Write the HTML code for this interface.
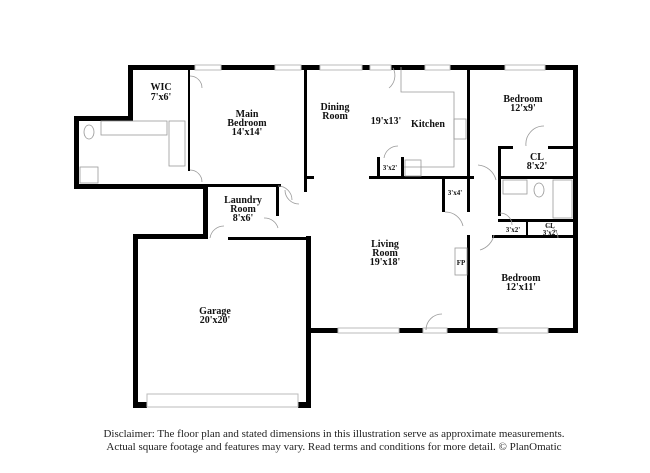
<!DOCTYPE html>
<html><head><meta charset="utf-8"><style>
html,body{margin:0;padding:0;background:#fff;}
svg{display:block;}
text{font-family:"Liberation Serif",serif;fill:#111;}
.l{font-size:10px;font-weight:bold;text-anchor:middle;}
.s{font-size:7px;font-weight:bold;text-anchor:middle;}
.d{font-size:11px;text-anchor:middle;fill:#222;}
</style></head><body>
<svg width="650" height="473" viewBox="0 0 650 473" xmlns="http://www.w3.org/2000/svg">
<rect width="650" height="473" fill="#fff"/>
<g fill="#000">
<rect x="128" y="65" width="450" height="5"/>
<rect x="573" y="65" width="5" height="268"/>
<rect x="128" y="65" width="5" height="56"/>
<rect x="74" y="116" width="59" height="5"/>
<rect x="74" y="116" width="5" height="73"/>
<rect x="74" y="184" width="134" height="5"/>
<rect x="203" y="184" width="5" height="55"/>
<rect x="133" y="234" width="75" height="5"/>
<rect x="133" y="234" width="5" height="174"/>
<rect x="133" y="402" width="14" height="6"/>
<rect x="298" y="402" width="13" height="6"/>
<rect x="306" y="236" width="5" height="172"/>
<rect x="306" y="328" width="272" height="5"/>
<rect x="467" y="235" width="3" height="96"/>
<rect x="304" y="67" width="3" height="125"/>
<rect x="304" y="176" width="10" height="3"/>
<rect x="133" y="184" width="148" height="3"/>
<rect x="276" y="184" width="3" height="32"/>
<rect x="228" y="237" width="80" height="3"/>
<rect x="369" y="176" width="105" height="3"/>
<rect x="377" y="157" width="3" height="20"/>
<rect x="401" y="157" width="3" height="20"/>
<rect x="467" y="67" width="3" height="145"/>
<rect x="442" y="177" width="3" height="35"/>
<rect x="498" y="146" width="3" height="30"/>
<rect x="498" y="146" width="15" height="3"/>
<rect x="548" y="146" width="27" height="3"/>
<rect x="498" y="176" width="77" height="3"/>
<rect x="498" y="176" width="3" height="40"/>
<rect x="498" y="219" width="77" height="3"/>
<rect x="526" y="219" width="2" height="18"/>
<rect x="492" y="235" width="83" height="3"/>
<rect x="188" y="67" width="2" height="104"/>
</g>
<g fill="#fff" stroke="#bbb" stroke-width="1">
<rect x="195" y="65" width="26" height="5"/>
<rect x="275" y="65" width="26" height="5"/>
<rect x="320" y="65" width="42" height="5"/>
<rect x="370" y="65" width="21" height="5"/>
<rect x="425" y="65" width="25" height="5"/>
<rect x="505" y="65" width="40" height="5"/>
<rect x="338" y="328" width="61" height="5"/>
<rect x="423" y="328" width="24" height="5"/>
<rect x="498" y="328" width="50" height="5"/>
<rect x="147" y="394" width="151" height="13"/>
</g>
<g fill="none" stroke="#999" stroke-width="0.8">
<rect x="101" y="121" width="66" height="14"/>
<rect x="169" y="121" width="16" height="45"/>
<rect x="80" y="167" width="18" height="16"/>
<ellipse cx="89" cy="132" rx="5" ry="7"/>
<path d="M401 67 v25 h53 v75 h-50"/>
<rect x="454" y="119" width="12" height="20"/>
<rect x="405" y="160" width="16" height="16"/>
<rect x="455" y="248" width="12" height="27"/>
<rect x="503" y="180" width="24" height="14"/>
<rect x="553" y="180" width="19" height="38"/>
<ellipse cx="539" cy="190" rx="5" ry="7"/>
<path d="M190 76 a12 12 0 0 1 12 12"/><path d="M190 170 a12 12 0 0 1 12 12"/>
<path d="M278 186 a14 14 0 0 1 14 14"/><path d="M278 228 a14 14 0 0 0 -14 -10"/>
<path d="M210 238 a14 14 0 0 1 14 -12"/><path d="M393 68 a16 16 0 0 1 -4 20"/>
<path d="M384 158 a14 14 0 0 1 14 -12"/><path d="M445 212 a18 18 0 0 1 18 14"/>
<path d="M478 165 a20 20 0 0 1 18 15"/><path d="M480 250 a20 20 0 0 0 14 -15"/>
<path d="M500 213 a12 12 0 0 1 12 12"/><path d="M546 226 a12 12 0 0 1 12 12"/>
<path d="M526 146 a18 18 0 0 1 18 -20"/><path d="M426 330 a16 16 0 0 1 16 -16"/>
<path d="M285 190 a14 14 0 0 0 14 14"/>
</g>
<text class="l" x="161" y="90">WIC</text><text class="l" x="161" y="100">7'x6'</text>
<text class="l" x="247" y="117">Main</text><text class="l" x="247" y="126">Bedroom</text><text class="l" x="247" y="135">14'x14'</text>
<text class="l" x="335" y="110">Dining</text><text class="l" x="335" y="119">Room</text>
<text class="l" x="386" y="124">19'x13'</text><text class="l" x="428" y="127">Kitchen</text>
<text class="l" x="523" y="102">Bedroom</text><text class="l" x="523" y="111">12'x9'</text>
<text class="l" x="537" y="160">CL</text><text class="l" x="537" y="169">8'x2'</text>
<text class="s" x="390" y="170">3'x2'</text><text class="s" x="455" y="195">3'x4'</text>
<text class="s" x="513" y="232">3'x2'</text><text class="s" x="550" y="228">CL</text><text class="s" x="550" y="235">3'x2'</text>
<text class="l" x="243" y="203">Laundry</text><text class="l" x="243" y="212">Room</text><text class="l" x="243" y="221">8'x6'</text>
<text class="l" x="385" y="247">Living</text><text class="l" x="385" y="256">Room</text><text class="l" x="385" y="265">19'x18'</text>
<text class="s" x="461" y="265">FP</text>
<text class="l" x="521" y="281">Bedroom</text><text class="l" x="521" y="290">12'x11'</text>
<text class="l" x="215" y="314">Garage</text><text class="l" x="215" y="323">20'x20'</text>
<text class="d" x="334" y="437">Disclaimer: The floor plan and stated dimensions in this illustration serve as approximate measurements.</text>
<text class="d" x="334" y="450">Actual square footage and features may vary. Read terms and conditions for more detail. © PlanOmatic</text>
</svg>
</body></html>
